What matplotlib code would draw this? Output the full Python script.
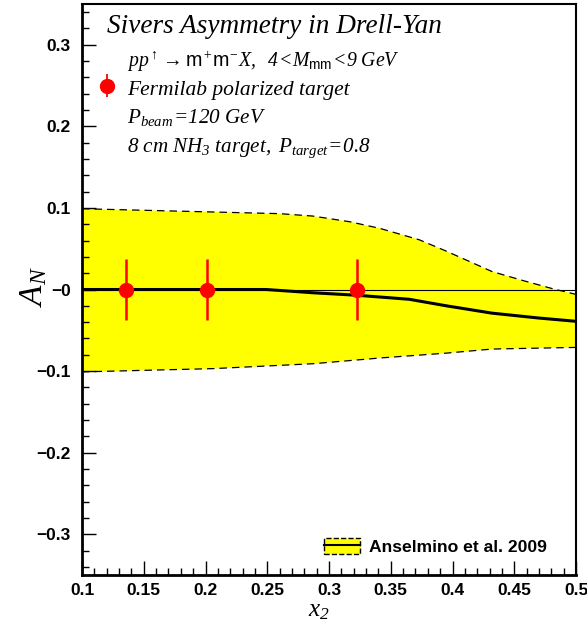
import matplotlib
matplotlib.use('Agg')
import matplotlib.pyplot as plt
from matplotlib.patches import Patch
from matplotlib.lines import Line2D

plt.rcParams['mathtext.fontset'] = 'custom'
plt.rcParams['mathtext.rm'] = 'Liberation Serif:italic'
plt.rcParams['mathtext.it'] = 'Liberation Serif:italic'
plt.rcParams['mathtext.sf'] = 'Liberation Sans'

# data points (Fermilab polarized target projection)
x_pts = [0.136, 0.201, 0.323]
y_pts = [0.0, 0.0, 0.0]
err_pts = [0.038, 0.037, 0.037]

# Anselmino et al. 2009 band
x_up = [0.1, 0.18, 0.26, 0.287, 0.317, 0.341, 0.373, 0.395, 0.432, 0.457, 0.481, 0.5]
y_up = [0.099, 0.096, 0.093, 0.090, 0.083, 0.075, 0.061, 0.047, 0.022, 0.011, 0.001, -0.006]
x_lo = [0.1, 0.206, 0.287, 0.341, 0.395, 0.432, 0.5]
y_lo = [-0.101, -0.097, -0.091, -0.084, -0.078, -0.073, -0.071]
x_mid = [0.1, 0.249, 0.287, 0.322, 0.365, 0.395, 0.432, 0.47, 0.5]
y_mid = [0.0, 0.0, -0.004, -0.007, -0.012, -0.020, -0.029, -0.035, -0.039]

yticks = [-0.3, -0.2, -0.1, 0.0, 0.1, 0.2, 0.3]
ytick_labels = ['\u22120.3', '\u22120.2', '\u22120.1', '\u22120', '0.1', '0.2', '0.3']
xticks = [0.1, 0.15, 0.2, 0.25, 0.3, 0.35, 0.4, 0.45, 0.5]
xtick_labels = ['0.1', '0.15', '0.2', '0.25', '0.3', '0.35', '0.4', '0.45', '0.5']

fig = plt.figure(figsize=(5.87, 6.25), dpi=100)
ax = fig.add_axes([0.1397, 0.08, 0.8416, 0.9136])

# build band polygon from the upper and reversed lower edges
band_x = x_up + x_lo[::-1]
band_y = y_up + y_lo[::-1]
ax.fill(band_x, band_y, color='#ffff00', lw=0, zorder=1)
ax.plot(x_up, y_up, color='black', ls=(0, (6, 4)), lw=0.9, zorder=2)
ax.plot(x_lo, y_lo, color='black', ls=(0, (6, 4)), lw=0.9, zorder=2)
ax.axhline(0, color='black', lw=0.8, zorder=2)
ax.plot(x_mid, y_mid, color='black', lw=2.2, zorder=3)

ax.errorbar(x_pts, y_pts, yerr=err_pts, fmt='o', color='#ff0000', ms=10,
            elinewidth=1.8, capsize=0, zorder=5)

ax.set_xlim(0.1, 0.5)
ax.set_ylim(-0.35, 0.35)
ax.set_xticks(xticks)
ax.set_xticklabels(xtick_labels)
ax.set_yticks(yticks)
ax.set_yticklabels(ytick_labels)
ax.set_xticks([0.1 + 0.01 * i for i in range(41)], minor=True)
ax.set_yticks([-0.34 + 0.02 * i for i in range(35)], minor=True)
ax.tick_params(which='both', direction='in', top=False, right=False, width=1)
ax.tick_params(which='major', length=10)
ax.tick_params(which='minor', length=5)
for lab in ax.get_xticklabels() + ax.get_yticklabels():
    lab.set_family('Liberation Sans')
    lab.set_fontweight('bold')
    lab.set_fontsize(12.5)
ax.tick_params(axis='x', pad=6)
ax.tick_params(axis='y', pad=8)
ax.spines['left'].set_linewidth(2)
ax.spines['bottom'].set_linewidth(2)
ax.spines['right'].set_linewidth(1.5)
ax.spines['top'].set_linewidth(1.5)

# text block
serif = 'Liberation Serif'
fig.text(107 / 587, 1 - 33 / 625, 'Sivers Asymmetry in Drell-Yan', family=serif,
         style='italic', fontsize=19.6, va='baseline')
fig.text(127 / 587, 1 - 67 / 625,
         r'$pp^{\uparrow}\rightarrow\mathsf{m}^{+}\mathsf{m}^{-}X,\ \ 4\!<\!M_{\mathsf{mm}}\!<\!9\ GeV$',
         fontsize=14.2, va='baseline')
fig.text(127 / 587, 1 - 95 / 625, 'Fermilab polarized target', family=serif,
         style='italic', fontsize=15.5, va='baseline')
fig.text(127 / 587, 1 - 123 / 625, r'$P_{beam}\!=\!120\ GeV$', fontsize=15.2, va='baseline')
fig.text(127 / 587, 1 - 152 / 625, r'$8\ cm\ NH_{3}\ target,\ P_{target}\!=\!0.8$',
         fontsize=15.2, va='baseline')

# legend marker for the data points
ax.errorbar([0.1 + (107 - 82) / 1237.5], [(290 - 86) / 817], yerr=[0.014],
            fmt='o', color='#ff0000', ms=10, elinewidth=1.3, capsize=0,
            clip_on=False, zorder=6)

# band legend
band_handle = (Patch(facecolor='#ffff00', edgecolor='black', ls='--', lw=1),
               Line2D([], [], color='black', lw=1.5))
ax.legend([band_handle], ['Anselmino et al. 2009'], loc='lower right',
          bbox_to_anchor=(0.973, 0.008), frameon=False, handlelength=2.1,
          handleheight=1.0, handletextpad=0.5,
          prop={'family': 'Liberation Sans', 'weight': 'bold', 'size': 12.6})

fig.text(33 / 587, 1 - 287 / 625, r'$A_{N}$', fontsize=24, rotation=90,
         ha='center', va='center')
fig.text(319 / 587, 1 - 616 / 625, r'$x_{2}$', fontsize=18, ha='center', va='baseline')

plt.savefig('out.png', dpi=100)
